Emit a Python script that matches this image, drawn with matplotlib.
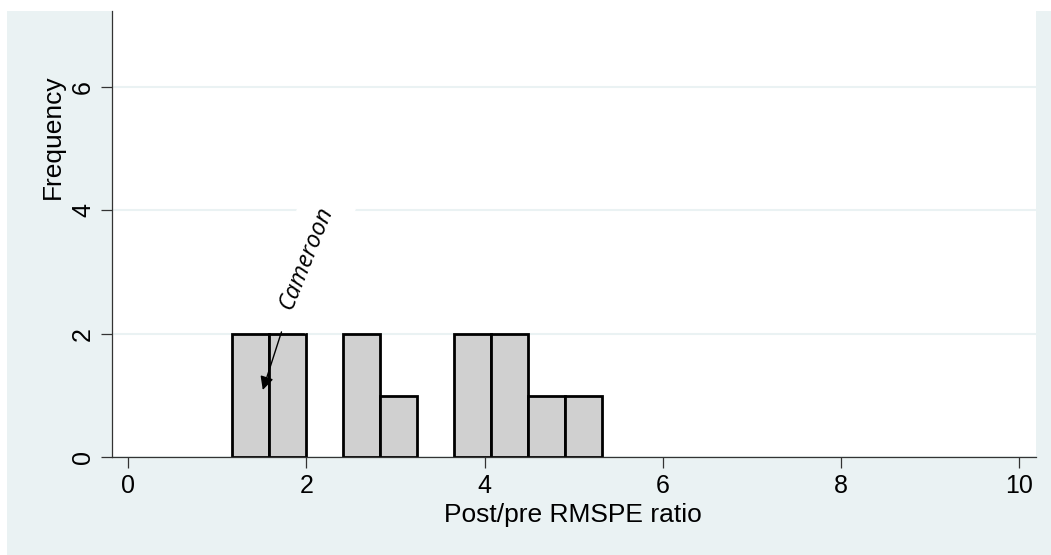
import numpy as np
import matplotlib
matplotlib.use("Agg")
import matplotlib.pyplot as plt
from matplotlib.patches import Rectangle

# Histograma de la razón RMSPE post/pre
bin_edges = [1.16, 1.576, 1.99, 2.406, 2.825, 3.237, 3.655, 4.074, 4.486, 4.901, 5.313]
counts = [2, 2, 0, 2, 1, 0, 2, 2, 1, 1]
x_ticks = [0, 2, 4, 6, 8, 10]
y_ticks = [0, 2, 4, 6]
etiqueta = "Cameroon"
punto_texto = (2.0, 3.22)
punto_flecha = (1.51, 1.09)
inicio_flecha = (1.72, 2.03)

fondo = "#EAF2F3"
plt.rcParams["font.family"] = ["Liberation Sans", "DejaVu Sans"]

fig = plt.figure(figsize=(10.51, 5.55), dpi=100)
fig.patch.set_facecolor("white")
fig.patches.append(Rectangle((7 / 1051, 0), 1, 1 - 11 / 555, transform=fig.transFigure,
                             facecolor=fondo, edgecolor="none", zorder=-10))

ax = fig.add_axes([111.7 / 1051, 1 - 457.3 / 555, (1036 - 111.7) / 1051, (457.3 - 11) / 555])
ax.set_zorder(5)
ax.set_facecolor("white")

edges = np.array(bin_edges)
h = np.array(counts)
left = edges[:-1]
width = np.diff(edges)
m = h > 0
ax.bar(left[m], h[m], width=width[m], align="edge", color="#D0D0D0",
       edgecolor="black", linewidth=2, zorder=2)

ax.set_xlim(-0.186, 10.19)
ax.set_ylim(0, 7.225)
ax.set_xticks(x_ticks)
ax.set_yticks(y_ticks)
ax.set_yticklabels([str(v) for v in y_ticks], rotation=90, va="center")
ax.tick_params(axis="both", labelsize=18, length=8, width=0.9, color="#333333", pad=4)

for s in ["top", "right"]:
    ax.spines[s].set_visible(False)
for s in ["left", "bottom"]:
    ax.spines[s].set_color("#333333")
    ax.spines[s].set_linewidth(0.9)

ax.yaxis.grid(True, color=fondo, linewidth=1.5, zorder=0)
ax.set_axisbelow(True)

ax.set_xlabel("Post/pre RMSPE ratio", fontsize=19, va="center")
ax.xaxis.set_label_coords(0.4985, -0.129)
ax.set_ylabel("Frequency", fontsize=19, va="center")
ax.yaxis.set_label_coords(-0.0635, 0.719)

# Etiqueta y flecha
ax.text(punto_texto[0], punto_texto[1], etiqueta, rotation=68, fontsize=17,
        fontstyle="italic", family=["Open Sans", "DejaVu Sans"],
        ha="center", va="center", rotation_mode="anchor", zorder=3,
        bbox=dict(boxstyle="square,pad=0.65", facecolor="white", edgecolor="none"))
ax.annotate("", xy=punto_flecha, xytext=inicio_flecha, zorder=4,
            arrowprops=dict(arrowstyle="-|>", color="black", lw=1, mutation_scale=20,
                            shrinkA=0, shrinkB=0))

fig.savefig("out.png", dpi=100)
